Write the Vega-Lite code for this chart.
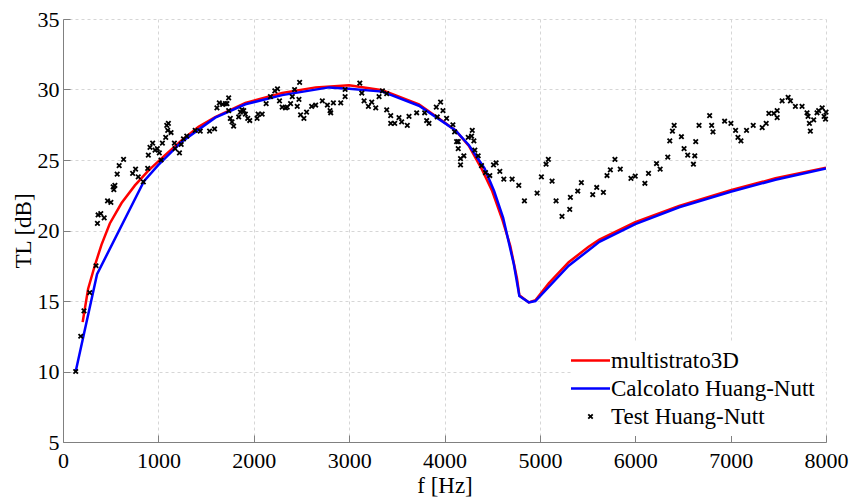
{
  "$schema": "https://vega.github.io/schema/vega-lite/v6.json",
  "width": 763,
  "height": 423,
  "autosize": {"type": "none"},
  "padding": {"left": 63, "top": 19, "right": 26, "bottom": 55},
  "background": "white",
  "config": {
    "font": "Liberation Serif",
    "view": {"stroke": null},
    "axis": {
      "grid": true,
      "gridDash": [3, 3],
      "gridColor": "#d6d6d6",
      "gridWidth": 1,
      "domainColor": "#808080",
      "domainWidth": 1,
      "tickColor": "#808080",
      "tickSize": -7,
      "labelFontSize": 22,
      "labelColor": "black",
      "labelFlush": false,
      "labelOverlap": false,
      "titleFontSize": 23,
      "titleFontWeight": "normal",
      "titleColor": "black"
    }
  },
  "datasets": {
    "multi": [
      {"f":206,"TL":13.5,"s":"multistrato3D"},{"f":263,"TL":15.85,"s":"multistrato3D"},{"f":333,"TL":17.5,"s":"multistrato3D"},{"f":404,"TL":19.0,"s":"multistrato3D"},{"f":491,"TL":20.5,"s":"multistrato3D"},{"f":614,"TL":21.95,"s":"multistrato3D"},{"f":754,"TL":23.2,"s":"multistrato3D"},{"f":895,"TL":24.25,"s":"multistrato3D"},{"f":1070,"TL":25.35,"s":"multistrato3D"},{"f":1246,"TL":26.4,"s":"multistrato3D"},{"f":1421,"TL":27.35,"s":"multistrato3D"},{"f":1596,"TL":28.05,"s":"multistrato3D"},{"f":1912,"TL":29.05,"s":"multistrato3D"},{"f":2298,"TL":29.75,"s":"multistrato3D"},{"f":2649,"TL":30.15,"s":"multistrato3D"},{"f":3000,"TL":30.3,"s":"multistrato3D"},{"f":3349,"TL":29.95,"s":"multistrato3D"},{"f":3732,"TL":28.95,"s":"multistrato3D"},{"f":3942,"TL":27.95,"s":"multistrato3D"},{"f":4116,"TL":27.1,"s":"multistrato3D"},{"f":4256,"TL":26.0,"s":"multistrato3D"},{"f":4395,"TL":24.3,"s":"multistrato3D"},{"f":4500,"TL":22.8,"s":"multistrato3D"},{"f":4605,"TL":20.8,"s":"multistrato3D"},{"f":4690,"TL":18.9,"s":"multistrato3D"},{"f":4760,"TL":16.6,"s":"multistrato3D"},{"f":4785,"TL":15.4,"s":"multistrato3D"},{"f":4884,"TL":14.9,"s":"multistrato3D"},{"f":4953,"TL":15.05,"s":"multistrato3D"},{"f":5093,"TL":16.25,"s":"multistrato3D"},{"f":5302,"TL":17.75,"s":"multistrato3D"},{"f":5511,"TL":18.85,"s":"multistrato3D"},{"f":5624,"TL":19.35,"s":"multistrato3D"},{"f":6000,"TL":20.6,"s":"multistrato3D"},{"f":6460,"TL":21.75,"s":"multistrato3D"},{"f":7000,"TL":22.85,"s":"multistrato3D"},{"f":7470,"TL":23.7,"s":"multistrato3D"},{"f":8000,"TL":24.45,"s":"multistrato3D"}
    ],
    "calc": [
      {"f":133,"TL":10.0,"s":"Calcolato Huang-Nutt"},{"f":357,"TL":16.9,"s":"Calcolato Huang-Nutt"},{"f":849,"TL":23.5,"s":"Calcolato Huang-Nutt"},{"f":1000,"TL":24.65,"s":"Calcolato Huang-Nutt"},{"f":1246,"TL":26.3,"s":"Calcolato Huang-Nutt"},{"f":1596,"TL":28.0,"s":"Calcolato Huang-Nutt"},{"f":1912,"TL":28.95,"s":"Calcolato Huang-Nutt"},{"f":2298,"TL":29.6,"s":"Calcolato Huang-Nutt"},{"f":2789,"TL":30.15,"s":"Calcolato Huang-Nutt"},{"f":3000,"TL":30.05,"s":"Calcolato Huang-Nutt"},{"f":3349,"TL":29.85,"s":"Calcolato Huang-Nutt"},{"f":3732,"TL":28.85,"s":"Calcolato Huang-Nutt"},{"f":3942,"TL":27.9,"s":"Calcolato Huang-Nutt"},{"f":4116,"TL":27.1,"s":"Calcolato Huang-Nutt"},{"f":4256,"TL":26.05,"s":"Calcolato Huang-Nutt"},{"f":4420,"TL":24.4,"s":"Calcolato Huang-Nutt"},{"f":4520,"TL":22.8,"s":"Calcolato Huang-Nutt"},{"f":4615,"TL":20.9,"s":"Calcolato Huang-Nutt"},{"f":4727,"TL":17.6,"s":"Calcolato Huang-Nutt"},{"f":4785,"TL":15.35,"s":"Calcolato Huang-Nutt"},{"f":4884,"TL":14.9,"s":"Calcolato Huang-Nutt"},{"f":4953,"TL":15.0,"s":"Calcolato Huang-Nutt"},{"f":5093,"TL":16.0,"s":"Calcolato Huang-Nutt"},{"f":5302,"TL":17.5,"s":"Calcolato Huang-Nutt"},{"f":5511,"TL":18.6,"s":"Calcolato Huang-Nutt"},{"f":5624,"TL":19.2,"s":"Calcolato Huang-Nutt"},{"f":6000,"TL":20.45,"s":"Calcolato Huang-Nutt"},{"f":6460,"TL":21.65,"s":"Calcolato Huang-Nutt"},{"f":7000,"TL":22.75,"s":"Calcolato Huang-Nutt"},{"f":7470,"TL":23.6,"s":"Calcolato Huang-Nutt"},{"f":8000,"TL":24.4,"s":"Calcolato Huang-Nutt"}
    ],
    "test": [
      {"f":133,"TL":10.0},{"f":186,"TL":12.5},{"f":220,"TL":14.3},{"f":280,"TL":15.6},{"f":346,"TL":17.5},{"f":361,"TL":20.5},{"f":368,"TL":21.1},{"f":396,"TL":21.2},{"f":432,"TL":20.9},{"f":467,"TL":22.1},{"f":502,"TL":22.0},{"f":526,"TL":23.1},{"f":533,"TL":22.9},{"f":544,"TL":23.2},{"f":568,"TL":24.0},{"f":589,"TL":24.6},{"f":635,"TL":25.05},{"f":730,"TL":24.05},{"f":761,"TL":24.35},{"f":789,"TL":23.8},{"f":842,"TL":23.45},{"f":888,"TL":24.4},{"f":895,"TL":25.35},{"f":912,"TL":25.9},{"f":940,"TL":26.2},{"f":965,"TL":25.7},{"f":989,"TL":25.8},{"f":1010,"TL":25.5},{"f":1028,"TL":25.0},{"f":1042,"TL":26.2},{"f":1077,"TL":26.6},{"f":1088,"TL":27.45},{"f":1098,"TL":27.1},{"f":1105,"TL":27.6},{"f":1133,"TL":26.95},{"f":1168,"TL":26.2},{"f":1175,"TL":25.8},{"f":1221,"TL":25.5},{"f":1239,"TL":26.1},{"f":1263,"TL":26.5},{"f":1298,"TL":26.7},{"f":1386,"TL":27.1},{"f":1439,"TL":27.05},{"f":1537,"TL":27.05},{"f":1589,"TL":27.2},{"f":1614,"TL":28.7},{"f":1639,"TL":29.05},{"f":1674,"TL":28.95},{"f":1702,"TL":29.0},{"f":1719,"TL":29.0},{"f":1737,"TL":29.4},{"f":1737,"TL":28.5},{"f":1754,"TL":27.95},{"f":1772,"TL":27.7},{"f":1789,"TL":27.4},{"f":1842,"TL":28.05},{"f":1860,"TL":28.4},{"f":1877,"TL":28.55},{"f":1895,"TL":28.5},{"f":1912,"TL":28.25},{"f":1937,"TL":27.95},{"f":1958,"TL":27.8},{"f":2035,"TL":27.95},{"f":2046,"TL":28.25},{"f":2088,"TL":28.25},{"f":2130,"TL":29.0},{"f":2175,"TL":29.5},{"f":2221,"TL":29.9},{"f":2249,"TL":30.05},{"f":2270,"TL":29.2},{"f":2298,"TL":28.75},{"f":2333,"TL":28.7},{"f":2351,"TL":28.75},{"f":2386,"TL":29.0},{"f":2404,"TL":29.5},{"f":2428,"TL":30.0},{"f":2456,"TL":28.8},{"f":2474,"TL":29.3},{"f":2481,"TL":30.5},{"f":2491,"TL":28.2},{"f":2526,"TL":27.95},{"f":2554,"TL":28.4},{"f":2607,"TL":28.8},{"f":2649,"TL":28.9},{"f":2719,"TL":29.2},{"f":2772,"TL":28.9},{"f":2800,"TL":28.5},{"f":2807,"TL":28.35},{"f":2835,"TL":29.05},{"f":2912,"TL":29.05},{"f":2958,"TL":29.5},{"f":2958,"TL":30.0},{"f":3112,"TL":30.45},{"f":3133,"TL":29.75},{"f":3157,"TL":29.2},{"f":3202,"TL":28.8},{"f":3237,"TL":29.1},{"f":3279,"TL":28.7},{"f":3314,"TL":29.5},{"f":3349,"TL":29.9},{"f":3394,"TL":29.7},{"f":3394,"TL":28.55},{"f":3436,"TL":28.15},{"f":3436,"TL":27.6},{"f":3478,"TL":27.6},{"f":3523,"TL":28.0},{"f":3551,"TL":27.7},{"f":3610,"TL":27.45},{"f":3628,"TL":28.1},{"f":3708,"TL":28.35},{"f":3792,"TL":28.35},{"f":3813,"TL":27.8},{"f":3837,"TL":27.6},{"f":3914,"TL":28.75},{"f":3924,"TL":28.05},{"f":3959,"TL":29.1},{"f":3984,"TL":28.5},{"f":4022,"TL":27.95},{"f":4088,"TL":27.5},{"f":4106,"TL":27.0},{"f":4127,"TL":26.3},{"f":4144,"TL":26.3},{"f":4144,"TL":25.8},{"f":4168,"TL":25.1},{"f":4168,"TL":24.65},{"f":4203,"TL":25.3},{"f":4249,"TL":26.6},{"f":4284,"TL":26.7},{"f":4291,"TL":27.1},{"f":4308,"TL":26.35},{"f":4318,"TL":25.7},{"f":4353,"TL":25.3},{"f":4388,"TL":24.6},{"f":4430,"TL":24.1},{"f":4475,"TL":23.9},{"f":4514,"TL":24.65},{"f":4541,"TL":24.8},{"f":4580,"TL":24.2},{"f":4622,"TL":23.65},{"f":4709,"TL":23.65},{"f":4779,"TL":23.2},{"f":4838,"TL":22.1},{"f":4971,"TL":22.65},{"f":5016,"TL":23.8},{"f":5065,"TL":24.7},{"f":5089,"TL":25.05},{"f":5128,"TL":23.5},{"f":5170,"TL":22.1},{"f":5232,"TL":21.0},{"f":5313,"TL":21.5},{"f":5320,"TL":22.35},{"f":5397,"TL":22.8},{"f":5435,"TL":23.4},{"f":5554,"TL":22.55},{"f":5596,"TL":23.05},{"f":5666,"TL":22.7},{"f":5704,"TL":23.9},{"f":5739,"TL":24.3},{"f":5787,"TL":25.05},{"f":5843,"TL":24.35},{"f":5955,"TL":23.7},{"f":6000,"TL":23.85},{"f":6101,"TL":23.35},{"f":6139,"TL":24.05},{"f":6223,"TL":24.75},{"f":6261,"TL":24.35},{"f":6341,"TL":25.2},{"f":6362,"TL":26.35},{"f":6390,"TL":27.05},{"f":6408,"TL":27.45},{"f":6484,"TL":26.65},{"f":6512,"TL":25.8},{"f":6550,"TL":25.35},{"f":6610,"TL":24.7},{"f":6624,"TL":25.3},{"f":6634,"TL":26.3},{"f":6669,"TL":27.45},{"f":6780,"TL":28.15},{"f":6801,"TL":27.45},{"f":6815,"TL":27.0},{"f":6937,"TL":27.75},{"f":7003,"TL":27.6},{"f":7052,"TL":27.1},{"f":7077,"TL":26.6},{"f":7108,"TL":26.35},{"f":7167,"TL":27.1},{"f":7237,"TL":27.45},{"f":7331,"TL":27.3},{"f":7373,"TL":27.6},{"f":7401,"TL":28.3},{"f":7453,"TL":28.3},{"f":7488,"TL":28.5},{"f":7488,"TL":28.0},{"f":7540,"TL":29.2},{"f":7603,"TL":29.45},{"f":7627,"TL":29.2},{"f":7679,"TL":28.8},{"f":7749,"TL":28.8},{"f":7801,"TL":28.35},{"f":7812,"TL":28.1},{"f":7826,"TL":27.6},{"f":7836,"TL":27.05},{"f":7871,"TL":27.85},{"f":7906,"TL":28.35},{"f":7923,"TL":28.5},{"f":7960,"TL":28.7},{"f":7980,"TL":28.1},{"f":7995,"TL":27.9},{"f":8000,"TL":28.4}
    ]
  },
  "encoding": {
    "x": {
      "field": "f", "type": "quantitative",
      "scale": {"domain": [0, 8000], "nice": false, "zero": false},
      "axis": {"title": "f [Hz]", "values": [0,1000,2000,3000,4000,5000,6000,7000,8000], "format": "d", "labelPadding": 15, "titlePadding": 3}
    },
    "y": {
      "field": "TL", "type": "quantitative",
      "scale": {"domain": [5, 35], "nice": false, "zero": false},
      "axis": {"title": "TL [dB]", "values": [5,10,15,20,25,30,35], "format": "d", "labelPadding": 11, "titlePadding": 2}
    }
  },
  "layer": [
    {
      "data": {"name": "multi"},
      "mark": {"type": "line", "strokeWidth": 2.5, "clip": true},
      "encoding": {
        "color": {
          "field": "s", "type": "nominal",
          "scale": {"domain": ["multistrato3D", "Calcolato Huang-Nutt", "Test Huang-Nutt"], "range": ["#ff0000", "#0000ff", "#000000"]},
          "legend": {
            "orient": "none", "legendX": 509, "legendY": 323,
            "title": null, "fillColor": "white", "padding": 7,
            "symbolType": "stroke", "symbolSize": 1521, "symbolStrokeWidth": 2.5,
            "labelFontSize": 23, "labelColor": "black", "labelOffset": 9, "labelLimit": 400,
            "rowPadding": 4,
            "encode": {
              "symbols": {
                "update": {
                  "shape": {"signal": "datum.value === 'Test Huang-Nutt' ? 'M-1,-1L1,1M1,-1L-1,1' : 'stroke'"},
                  "size": {"signal": "datum.value === 'Test Huang-Nutt' ? 20 : 1521"},
                  "strokeWidth": {"signal": "datum.value === 'Test Huang-Nutt' ? 1.8 : 2.5"}
                }
              }
            }
          }
        }
      }
    },
    {
      "data": {"name": "calc"},
      "mark": {"type": "line", "strokeWidth": 2.5, "clip": true},
      "encoding": {
        "color": {"field": "s", "type": "nominal"}
      }
    },
    {
      "data": {"name": "test"},
      "transform": [{"calculate": "'Test Huang-Nutt'", "as": "s"}],
      "mark": {"type": "point", "shape": "M-1,-1L1,1M1,-1L-1,1", "size": 20, "strokeWidth": 1.8, "filled": false, "opacity": 1},
      "encoding": {
        "color": {"field": "s", "type": "nominal"}
      }
    }
  ]
}
